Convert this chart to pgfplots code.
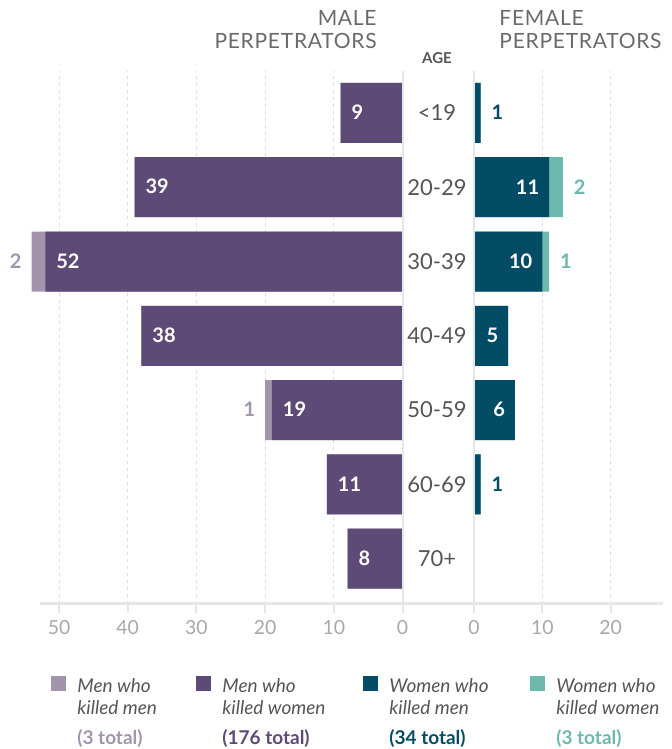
\documentclass[border=0pt]{standalone}
\usepackage{pgfplots}
\pgfplotsset{compat=1.18}
\usepackage{pgfplotstable}
\usepackage{fontspec}
\setmainfont{Lato}
\newfontfamily\headfont[LetterSpace=3.5]{Lato}
\definecolor{mkc}{HTML}{A394AE}
\definecolor{mwc}{HTML}{5E4A76}
\definecolor{wmc}{HTML}{034C66}
\definecolor{wwc}{HTML}{6DB9AD}
\definecolor{gridc}{HTML}{DDDDDD}
\definecolor{linec}{HTML}{E6E6E6}
\definecolor{tickc}{HTML}{A8A8A8}
\definecolor{textc}{HTML}{555555}
\definecolor{headc}{HTML}{6A6A6A}
\protected\def\inL#1{\makebox[0pt][l]{\hspace{5.5pt}\textcolor{white}{\bfseries #1}}}
\protected\def\outL#1#2{\makebox[0pt][r]{\textcolor{#1}{\bfseries #2}\hspace{5pt}}}
\protected\def\inR#1{\makebox[0pt][r]{\textcolor{white}{\bfseries #1}\hspace{5pt}}}
\protected\def\outR#1#2{\makebox[0pt][l]{\hspace{5.5pt}\textcolor{#1}{\bfseries #2}}}
\newcommand\legtext[5]{\parbox[c]{#1}{\fontsize{9.5}{11}\selectfont\color{textc}\itshape #2\\#3\\[4pt]\upshape\bfseries\textcolor{#5}{#4}}}

% male perpetrators: mw = men who killed women, mk = men who killed men
\pgfplotstableread{
y mw mwlab mk mklab
0 9 \inL{9} 0 {}
-1 39 \inL{39} 0 {}
-2 52 \inL{52} 2 \outL{mkc}{2}
-3 38 \inL{38} 0 {}
-4 19 \inL{19} 1 \outL{mkc}{1}
-5 11 \inL{11} 0 {}
-6 8 \inL{8} 0 {}
}\maletab
% female perpetrators: wm = women who killed men, ww = women who killed women
\pgfplotstableread{
y wm wmlab ww wwlab
0 1 \outR{wmc}{1} 0 {}
-1 11 \inR{11} 2 \outR{wwc}{2}
-2 10 \inR{10} 1 \outR{wwc}{1}
-3 5 \inR{5} 0 {}
-4 6 \inR{6} 0 {}
-5 1 \outR{wmc}{1} 0 {}
-6 0 {} 0 {}
}\femtab

\pgfplotsset{
  common/.style={
    scale only axis, height=266.5pt,
    ymin=-6.61, ymax=0.565,
    axis x line*=bottom, axis y line*=left,
    y axis line style={draw=none},
    x axis line style={linec, line width=1.5pt},
    tick align=outside, major tick length=4.5pt,
    xtick style={linec, line width=1pt},
    ytick style={draw=none},
    xmajorgrids, grid style={gridc, dash pattern=on 1.5pt off 2pt, line width=0.5pt},
    xticklabel style={font=\fontsize{9.7}{11}\selectfont, text=tickc},
    clip=false,
  },
  bars/.style={xbar, bar width=30pt, bar shift=0pt, draw=none, fill=#1, forget plot},
  labels/.style={draw=none, mark=none, forget plot,
    nodes near coords={\pgfplotspointmeta},
    nodes near coords align=horizontal,
    point meta=explicit symbolic,
    every node near coord/.append style={inner sep=0pt, yshift=-3.6pt, font=\fontsize{10}{12}\selectfont}},
}

\begin{document}
\begin{tikzpicture}
\path[use as bounding box] (0pt,0pt) rectangle (335.5pt,374.5pt);

\begin{axis}[common,
  at={(20pt,72.5pt)}, anchor=south west, width=181.25pt,
  xmin=-52.77, xmax=0,
  xtick={-50,-40,-30,-20,-10,0}, xticklabels={50,40,30,20,10,0},
  ytick=\empty,
  legend columns=4,
  legend style={at={(0.0303,-0.134)}, anchor=north west, draw=none, fill=none,
    inner sep=0pt, nodes={inner sep=0pt},
    /tikz/every odd column/.append style={column sep=5.5pt},
    /tikz/every even column/.append style={column sep=0pt}},
  legend cell align=left,
  legend image code/.code={\path[draw=none, fill=none] (0pt,-11.9pt) rectangle (7.5pt,11.9pt); \fill[#1] (0pt,4.4pt) rectangle (7.5pt,11.9pt);},
]
% men who killed men, stacked beyond men who killed women
\addplot[bars=mkc] table[x expr=-\thisrow{mw}-\thisrow{mk}, y=y] {\maletab};
\addplot[bars=mwc] table[x expr=-\thisrow{mw}, y=y] {\maletab};
\addplot[labels] table[x expr=-\thisrow{mw}, y=y, meta=mwlab] {\maletab};
\addplot[labels] table[x expr=-\thisrow{mw}-\thisrow{mk}, y=y, meta=mklab] {\maletab};
\draw[linec, line width=1pt] (rel axis cs:1,0) -- (rel axis cs:1,1);
\addlegendimage{fill=mkc, draw=none}
\addlegendentry{\legtext{59.5pt}{Men who}{killed men}{(3 total)}{mkc}}
\addlegendimage{fill=mwc, draw=none}
\addlegendentry{\legtext{70.5pt}{Men who}{killed women}{(176 total)}{mwc}}
\addlegendimage{fill=wmc, draw=none}
\addlegendentry{\legtext{70.5pt}{Women who}{killed men}{(34 total)}{wmc}}
\addlegendimage{fill=wwc, draw=none}
\addlegendentry{\legtext{56pt}{Women who}{killed women}{(3 total)}{wwc}}
\end{axis}

\begin{axis}[common,
  at={(236.95pt,72.5pt)}, anchor=south west, width=94.55pt,
  xmin=0, xmax=27.65,
  xtick={0,10,20}, xticklabels={0,10,20},
  ytick={0,-1,-2,-3,-4,-5,-6},
  yticklabels={<19,20-29,30-39,40-49,50-59,60-69,70+},
  yticklabel style={anchor=center, xshift=-14pt, font=\fontsize{11}{13}\selectfont, text=textc},
]
% women who killed women, stacked beyond women who killed men
\addplot[bars=wwc] table[x expr=\thisrow{wm}+\thisrow{ww}, y=y] {\femtab};
\addplot[bars=wmc] table[x=wm, y=y] {\femtab};
\addplot[labels] table[x=wm, y=y, meta=wmlab] {\femtab};
\addplot[labels] table[x expr=\thisrow{wm}+\thisrow{ww}, y=y, meta=wwlab] {\femtab};
\draw[linec, line width=1pt] (rel axis cs:0,0) -- (rel axis cs:0,1);
\end{axis}

\draw[linec, line width=1.5pt] (201pt,72.5pt) -- (237pt,72.5pt);
\node[anchor=east, align=right, inner sep=0pt, text=headc, font=\headfont\fontsize{10.5}{11.5}\selectfont] at (188.5pt,359.75pt) {MALE\\PERPETRATORS};
\node[anchor=west, align=left, inner sep=0pt, text=headc, font=\headfont\fontsize{10.5}{11.5}\selectfont] at (249.5pt,359.75pt) {FEMALE\\PERPETRATORS};
\node[inner sep=0pt, text=textc, font=\bfseries\fontsize{7.5}{8}\selectfont] at (218.5pt,345.5pt) {AGE};
\end{tikzpicture}
\end{document}
